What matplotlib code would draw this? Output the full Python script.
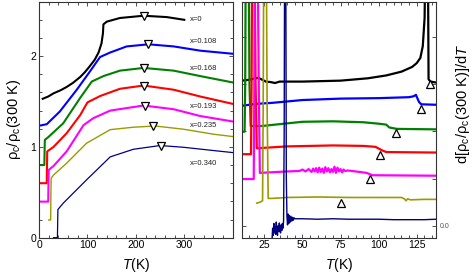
import matplotlib
matplotlib.use("Agg")
import matplotlib.pyplot as plt
from matplotlib.ticker import MultipleLocator, FixedLocator

plt.rcParams['font.family'] = ['Liberation Sans', 'DejaVu Sans']
plt.rcParams['mathtext.fontset'] = 'custom'
plt.rcParams['mathtext.rm'] = 'Liberation Sans'
plt.rcParams['mathtext.it'] = 'Liberation Sans:italic'
plt.rcParams['mathtext.bf'] = 'Liberation Sans:bold'

# ---------------- data: left panel (rho_c / rho_c(300K) vs T) ----------------
labels = ["x=0", "x=0.108", "x=0.168", "x=0.193", "x=0.235", "x=0.340"]
colors = ["black", "#0000ff", "#008000", "#ff0000", "#ff00ff", "#9c9a00", "#000080"]

T_x0 = [7.6, 19, 30, 45, 57, 70, 85, 95, 105, 115, 123, 129, 132, 133, 140, 167, 216, 264, 300]
R_x0 = [1.53, 1.555, 1.59, 1.625, 1.66, 1.705, 1.77, 1.825, 1.89, 1.96, 2.04, 2.14, 2.25, 2.35, 2.38, 2.42, 2.445, 2.43, 2.40]

T_x108 = [2, 16, 43, 78, 105, 126, 147, 181, 226, 278, 333, 400]
R_x108 = [1.235, 1.25, 1.39, 1.63, 1.83, 1.99, 2.04, 2.107, 2.13, 2.107, 2.06, 2.026]

T_x168 = [2, 11, 11.5, 12, 19, 50, 85, 109, 133, 167, 216, 278, 333, 400]
R_x168 = [0.80, 0.80, 0.95, 1.077, 1.107, 1.26, 1.54, 1.72, 1.78, 1.84, 1.87, 1.84, 1.78, 1.71]

T_x193 = [2, 16, 16.5, 17, 30, 57, 85, 100, 126, 167, 216, 278, 333, 400]
R_x193 = [0.60, 0.60, 0.80, 0.95, 1.00, 1.15, 1.35, 1.49, 1.56, 1.64, 1.676, 1.63, 1.555, 1.474]

T_x193b = [2, 19, 19.5, 20, 30, 57, 92, 112, 147, 216, 278, 333, 400]
R_x193b = [0.397, 0.397, 0.60, 0.746, 0.79, 0.95, 1.24, 1.316, 1.40, 1.456, 1.415, 1.34, 1.28]

T_x235 = [20, 24, 24.5, 25, 30, 57, 98, 147, 195, 240, 298, 360, 400]
R_x235 = [0.195, 0.195, 0.45, 0.654, 0.69, 0.82, 1.04, 1.19, 1.217, 1.23, 1.195, 1.14, 1.114]

T_x340 = [30, 38, 38.5, 39, 50, 98, 147, 195, 250, 298, 360, 400]
R_x340 = [0.0, 0.0, 0.15, 0.31, 0.38, 0.636, 0.89, 0.974, 1.015, 0.996, 0.96, 0.9375]

# maxima (down triangles)
Tmax = [216, 226, 216, 216, 218, 236, 252]
Rmax = [2.445, 2.13, 1.87, 1.676, 1.456, 1.228, 1.015]

label_T = [312, 312, 312, 312, 312, 312]
label_R = [2.40, 2.16, 1.864, 1.445, 1.232, 0.82]

# ---------------- data: right panel (derivative, offset) ----------------
dT_k0 = [10.5, 15, 21, 26, 29, 32, 35, 50, 75, 93, 105, 115, 122, 125, 127.4, 129, 130.2, 130.8, 132.3, 132.8, 134, 137.7]
dR_k0 = [3.07, 3.09, 3.13, 3.05, 3.04, 3.02, 3.05, 3.05, 3.07, 3.12, 3.18, 3.26, 3.36, 3.44, 3.55, 3.8, 4.4, 6.0, 6.0, 3.10, 3.05, 3.03]

dT_k1 = [10.5, 20, 30, 50, 75, 100, 120, 123, 124.5, 126.5, 128, 137.7]
dR_k1 = [2.54, 2.58, 2.60, 2.66, 2.69, 2.70, 2.72, 2.74, 2.77, 2.62, 2.57, 2.56]

dT_k2 = [10.5, 12.0, 12.4, 12.8, 14.6, 15.2, 16, 23, 50, 70, 90, 100, 105, 107, 112, 137.7]
dR_k2 = [1.99, 1.99, 3.0, 6.0, 6.0, 3.0, 2.11, 2.11, 2.20, 2.21, 2.19, 2.16, 2.14, 2.08, 2.05, 2.04]

dT_k3 = [10.5, 16.2, 16.6, 17.0, 18.5, 19.2, 20, 40, 70, 90, 98, 102, 105, 137.7]
dR_k3 = [1.515, 1.515, 3.0, 6.0, 6.0, 3.0, 1.64, 1.68, 1.70, 1.69, 1.67, 1.60, 1.56, 1.55]

dT_k4 = [10.5, 18.0, 18.4, 18.8, 20.5, 21.3, 22, 40, 48, 50, 52, 54, 56, 57, 58, 59, 60, 61, 62, 63, 64, 65,
         66, 67, 68, 69, 70, 71, 72, 73, 74, 75, 76, 77, 78, 80, 85, 92, 96, 137.7]
dR_k4 = [0.99, 0.99, 3.0, 6.0, 6.0, 3.0, 1.12, 1.15, 1.16, 1.19, 1.15, 1.20, 1.14, 1.21, 1.15, 1.22, 1.13, 1.23, 1.14, 1.21, 1.12, 1.24,
         1.15, 1.22, 1.13, 1.20, 1.14, 1.25, 1.12, 1.23, 1.15, 1.20, 1.13, 1.19, 1.16, 1.17, 1.15, 1.12, 1.07, 1.06]

dT_k5 = [20, 22, 23.8, 24.2, 24.6, 26.2, 26.8, 27.5, 30, 40, 60, 80, 100, 115, 117, 118, 119, 121, 130, 137.7]
dR_k5 = [0.48, 0.50, 0.53, 2.5, 6.0, 6.0, 2.5, 0.58, 0.58, 0.60, 0.61, 0.60, 0.60, 0.60, 0.57, 0.53, 0.57, 0.55, 0.56, 0.56]

dT_k6 = [30.0, 30.4, 30.8, 31.2, 31.6, 32.0, 32.4, 32.8, 33.2, 33.6, 34.0, 34.4, 34.8, 35.2, 35.6,
         36.0, 36.4, 36.8, 37.2, 37.6, 38.0, 38.3, 39.0, 39.4, 39.8, 40.2, 40.6, 41.0, 41.5, 42.0,
         42.5, 43.0, 43.5, 44.0, 44.5, 45.0, 50, 60, 70, 80, 90, 100, 110, 120, 130, 137.7]
dR_k6 = [-0.30, -0.05, -0.20, 0.05, -0.15, -0.02, -0.18, 0.08, -0.10, -0.20, 0.00, -0.12, 0.06, -0.08, -0.15,
         0.02, -0.10, 0.05, -0.05, 0.10, 2.0, 6.0, 6.0, 1.0, 0.20, 0.02, 0.25, 0.05, 0.22, 0.08,
         0.20, 0.10, 0.18, 0.12, 0.17, 0.15, 0.15, 0.14, 0.15, 0.14, 0.14, 0.14, 0.13, 0.13, 0.13, 0.14]

# kink temperatures (up triangles)
Tkink = [134, 128, 111.6, 100.6, 94.5, 75.4]
Rkink = [3.00, 2.47, 1.97, 1.49, 0.99, 0.48]

left_T = [T_x0, T_x108, T_x168, T_x193, T_x193b, T_x235, T_x340]
left_R = [R_x0, R_x108, R_x168, R_x193, R_x193b, R_x235, R_x340]
left_lw = [1.5, 1.5, 1.5, 1.5, 1.5, 1.0, 0.9]
right_T = [dT_k0, dT_k1, dT_k2, dT_k3, dT_k4, dT_k5, dT_k6]
right_R = [dR_k0, dR_k1, dR_k2, dR_k3, dR_k4, dR_k5, dR_k6]
right_lw = [1.6, 1.6, 1.6, 1.6, 1.6, 1.2, 1.0]

# ---------------- figure ----------------
fig = plt.figure(figsize=(4.74, 2.77), dpi=100)
ax1 = fig.add_axes([0.0823, 0.142, 0.4087, 0.852])
ax2 = fig.add_axes([0.5112, 0.142, 0.4087, 0.852])

for T, R, c, lw in zip(left_T, left_R, colors, left_lw):
    ax1.plot(T, R, color=c, lw=lw, solid_joinstyle='round')
ax1.plot(Tmax, Rmax, linestyle='none', marker='v', ms=5.5, mfc='white', mec='black', mew=0.9, zorder=5)
for t, r, s in zip(label_T, label_R, labels):
    ax1.text(t, r, s, fontsize=5.5, va='center', ha='left', color='#222222')

ax1.set_xlim(0, 400)
ax1.set_ylim(0, 2.6)
ax1.xaxis.set_major_locator(FixedLocator([0, 100, 200, 300]))
ax1.xaxis.set_minor_locator(MultipleLocator(20))
ax1.yaxis.set_major_locator(FixedLocator([0, 1, 2]))
ax1.yaxis.set_minor_locator(MultipleLocator(0.2))
ax1.set_xlabel(r'$T$(K)', fontsize=10)
ax1.set_ylabel(r'$\mathrm{\rho_c/\rho_c}$(300 K)', fontsize=10.5)
ax1.xaxis.set_label_coords(0.5, -0.115)
ax1.xaxis.label.set_va('center')
ax1.yaxis.set_label_coords(-0.129, 0.5)
ax1.yaxis.label.set_va('center')

for T, R, c, lw in zip(right_T, right_R, colors, right_lw):
    ax2.plot(T, R, color=c, lw=lw, solid_joinstyle='round')
ax2.plot(Tkink, Rkink, linestyle='none', marker='^', ms=5.5, mfc='white', mec='black', mew=0.9, zorder=5)
ax2.set_xlim(10.5, 137.7)
ax2.set_ylim(-0.25, 4.74)
ax2.xaxis.set_major_locator(FixedLocator([25, 50, 75, 100, 125]))
ax2.xaxis.set_minor_locator(MultipleLocator(5))
ax2.yaxis.set_major_locator(FixedLocator([0, 1, 2, 3, 4]))
ax2.set_yticklabels(['0.0', '', '', '', ''])
ax2.set_xlabel(r'$T$(K)', fontsize=10)
ax2.xaxis.set_label_coords(0.5, -0.115)
ax2.xaxis.label.set_va('center')
ax2.set_ylabel(r'd[$\mathrm{\rho_c/\rho_c}$(300 K)]/d$T$', fontsize=10.5, rotation=90)
ax2.yaxis.set_label_position('right')
ax2.yaxis.set_label_coords(1.139, 0.567)
ax2.yaxis.label.set_va('center')
ax2.yaxis.label.set_ha('center')

for ax in (ax1, ax2):
    for sp in ax.spines.values():
        sp.set_color('#333333')
        sp.set_linewidth(0.8)
    ax.tick_params(which='both', direction='in', top=True, right=True, color='#333333', width=0.6)
    ax.tick_params(which='major', length=3)
    ax.tick_params(which='minor', length=2)
    ax.tick_params(axis='both', labelsize=7.5, pad=2)

ax2.tick_params(axis='y', which='both', labelleft=False, labelright=True, labelsize=5, labelcolor='#555555', pad=3)

fig.savefig('out.png', dpi=100)
